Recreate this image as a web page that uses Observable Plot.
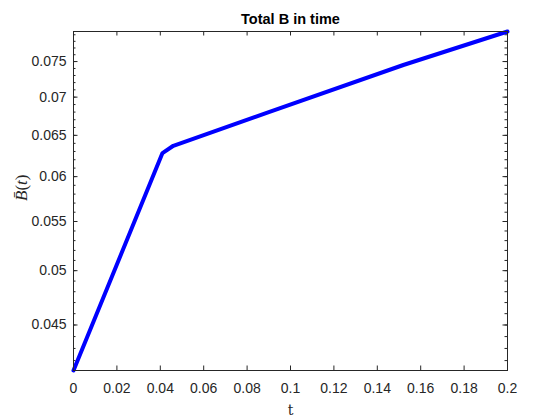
<!DOCTYPE html>
<html>
<head>
<meta charset="utf-8">
<script src="https://cdn.jsdelivr.net/npm/d3@7"></script>
<script src="https://cdn.jsdelivr.net/npm/@observablehq/plot@0.6"></script>
<style>
  html, body { margin: 0; padding: 0; background: #fff; }
  svg { display: block; }
</style>
</head>
<body>
<div id="chart"></div>
<script>
// Data
const tValues = [0, 0.041, 0.046, 0.09, 0.152, 0.2];
const bValues = [0.0412, 0.0628, 0.0637, 0.0680, 0.0745, 0.0795];
const xTicks = [0, 0.02, 0.04, 0.06, 0.08, 0.1, 0.12, 0.14, 0.16, 0.18, 0.2];
const yTicks = [0.045, 0.05, 0.055, 0.06, 0.065, 0.07, 0.075];
const yMinorTicks = d3.range(42, 80).map(v => v / 1000);
const titleText = "Total B in time";
const xLabel = "t";
const yLabel = "B\u0304(t)";

const data = tValues.map((t, i) => ({t, b: bValues[i]}));

const W = 560, H = 420;
const mL = 73, mR = 53, mT = 31, mB = 50;
const pw = W - mL - mR, ph = H - mT - mB;
const ink = "#262626";
const major = 4.5, minor = 2.5;

const chart = Plot.plot({
  width: W, height: H,
  marginLeft: mL, marginRight: mR, marginTop: mT, marginBottom: mB,
  style: {fontFamily: "'Liberation Sans', Arial, Helvetica, sans-serif", fontSize: "14px", color: ink, background: "#fff"},
  x: {domain: [0, 0.2]},
  y: {type: "log", domain: [0.0412, 0.0795]},
  marks: [
    // y ticks (inward, left & right)
    Plot.tickY(yMinorTicks, {y: d => d, stroke: ink, insetRight: pw - minor}),
    Plot.tickY(yMinorTicks, {y: d => d, stroke: ink, insetLeft: pw - minor}),
    Plot.tickY(yTicks, {y: d => d, stroke: ink, insetRight: pw - major}),
    Plot.tickY(yTicks, {y: d => d, stroke: ink, insetLeft: pw - major}),
    // x ticks (inward, bottom & top)
    Plot.tickX(xTicks, {x: d => d, stroke: ink, insetTop: ph - major}),
    Plot.tickX(xTicks, {x: d => d, stroke: ink, insetBottom: ph - major}),
    Plot.axisY(yTicks, {tickSize: 0, tickPadding: 7, tickFormat: d => String(d), label: null, fill: ink, fontSize: 14}),
    Plot.axisX(xTicks, {tickSize: 0, tickPadding: 13, tickFormat: d => String(d), label: null, fill: ink, fontSize: 14}),
    Plot.line(data, {x: "t", y: "b", stroke: "#0000ff", strokeWidth: 4, strokeLinejoin: "round"}),
    Plot.frame({stroke: ink, strokeWidth: 1}),
    Plot.text([titleText], {frameAnchor: "top", lineAnchor: "middle", dy: -12.5, fontWeight: "bold", fontSize: 14.5, fill: "#000"}),
    Plot.text([xLabel], {frameAnchor: "bottom", lineAnchor: "middle", dy: 40, fontFamily: "'DejaVu Serif', 'Liberation Serif', serif", fontSize: 14, fill: ink}),
    Plot.text([yLabel], {frameAnchor: "left", lineAnchor: "middle", dx: -52, rotate: -90, fontFamily: "'Liberation Serif', 'DejaVu Serif', serif", fontStyle: "italic", fontSize: 17, fill: ink})
  ]
});

document.getElementById("chart").appendChild(chart);

// style the y label like LaTeX: italic letters, upright parentheses
d3.select(chart).selectAll("text").each(function() {
  if (this.textContent === yLabel) {
    const el = d3.select(this);
    el.text(null);
    el.append("tspan").attr("font-style", "italic").text("B\u0304");
    el.append("tspan").attr("font-style", "normal").text("(");
    el.append("tspan").attr("font-style", "italic").text("t");
    el.append("tspan").attr("font-style", "normal").text(")");
  }
});
</script>
</body>
</html>
